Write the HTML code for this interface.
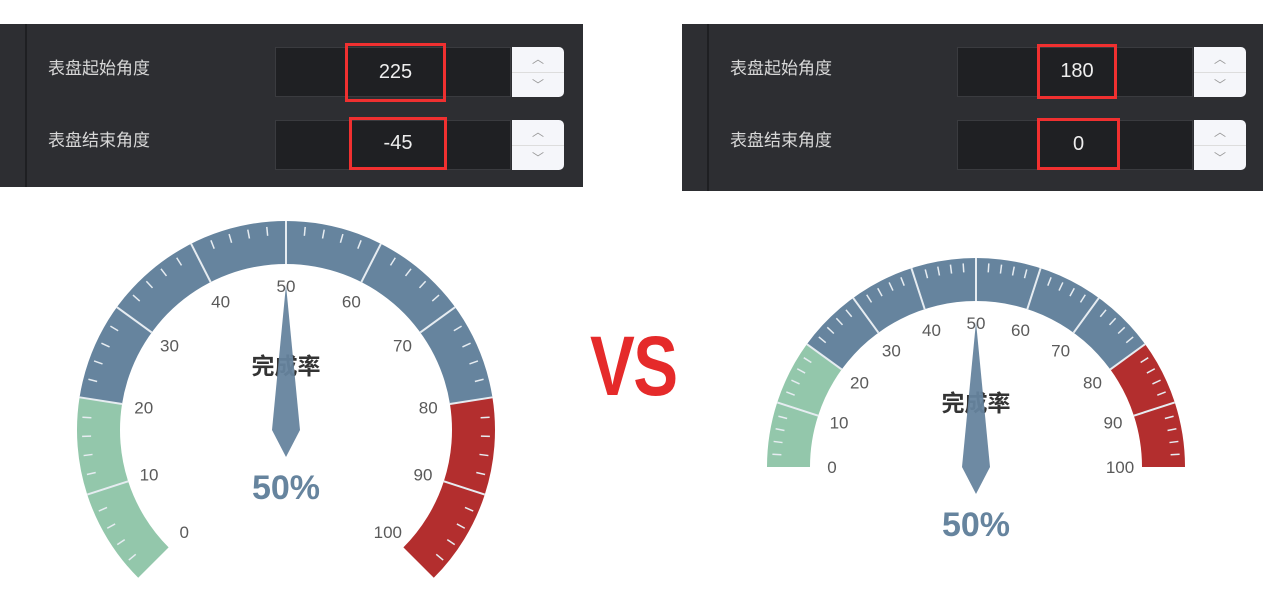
<!DOCTYPE html>
<html><head><meta charset="utf-8">
<style>
body{margin:0;width:1263px;height:613px;background:#fff;overflow:hidden;position:relative;font-family:"Liberation Sans","Noto Sans CJK SC",sans-serif}
.panel{position:absolute;background:#2d2e32}
.strip{position:absolute;left:25px;top:0;bottom:0;width:2px;background:#1e1f22}
.lbl{position:absolute;color:#d8d8d8;font-size:17px;font-family:"Liberation Sans","Noto Sans CJK SC",sans-serif}
.inp{position:absolute;width:236px;height:50px;background:#1f2023;border:1px solid #3a3b3f;box-sizing:border-box}
.spin{position:absolute;width:52px;height:50px;background:#f5f6fa;border-radius:0 5px 5px 0;box-sizing:border-box}
.spin div{height:25px;text-align:center;color:#999;font-size:12px;line-height:25px}
.spin div:first-child{border-bottom:1px solid #ddd}
.red{position:absolute;border:3px solid #f03030;box-sizing:border-box;color:#eee;font-size:20px;text-align:center}
#vs{position:absolute;left:590px;top:318px;font-size:84px;font-weight:bold;color:#e52a2a;letter-spacing:-2px;font-family:"Liberation Sans",sans-serif;transform:scaleX(0.8);transform-origin:0 0}
</style></head><body>
<div class="panel" style="left:0;top:24px;width:583px;height:163px">
 <div class="strip"></div>
 <div class="lbl" style="left:48px;top:30px">表盘起始角度</div>
 <div class="inp" style="left:275px;top:23px"></div>
 <div class="spin" style="left:512px;top:23px"><div>︿</div><div>﹀</div></div>
 <div class="red" style="left:345px;top:19px;width:101px;height:59px;line-height:53px">225</div>
 <div class="lbl" style="left:48px;top:102px">表盘结束角度</div>
 <div class="inp" style="left:275px;top:96px"></div>
 <div class="spin" style="left:512px;top:96px"><div>︿</div><div>﹀</div></div>
 <div class="red" style="left:349px;top:93px;width:98px;height:53px;line-height:47px">-45</div>
</div>
<div class="panel" style="left:682px;top:24px;width:581px;height:167px">
 <div class="strip"></div>
 <div class="lbl" style="left:48px;top:30px">表盘起始角度</div>
 <div class="inp" style="left:275px;top:23px"></div>
 <div class="spin" style="left:512px;top:23px"><div>︿</div><div>﹀</div></div>
 <div class="red" style="left:355px;top:20px;width:80px;height:55px;line-height:49px">180</div>
 <div class="lbl" style="left:48px;top:102px">表盘结束角度</div>
 <div class="inp" style="left:275px;top:96px"></div>
 <div class="spin" style="left:512px;top:96px"><div>︿</div><div>﹀</div></div>
 <div class="red" style="left:355px;top:94px;width:83px;height:52px;line-height:46px">0</div>
</div>
<div id="vs">VS</div>
<svg id="g" width="1263" height="613" style="position:absolute;left:0;top:0"></svg>
<script>
const axisMin = 0, axisMax = 100;
const gaugeValue = 50;
const bandStops = [0.2, 0.8, 1];
const bandColors = ["#93c7ab", "#66849e", "#b32e2e"];
const tickLabels = [0,10,20,30,40,50,60,70,80,90,100];
const gauges = [
 {cx:286, cy:430, start:225, end:-45, name:"gauge-225"},
 {cx:976, cy:467, start:180, end:0, name:"gauge-180"}
];
const NS="http://www.w3.org/2000/svg", svg=document.getElementById('g');
const RO=209, RI=166, RL=144;
function mk(t,a,p){const e=document.createElementNS(NS,t);for(const k in a)e.setAttribute(k,a[k]);(p||svg).appendChild(e);return e;}
gauges.forEach(g=>{
 const grp=mk('g',{});
 
 
 const ang=v=>(g.start+(g.end-g.start)*(v-axisMin)/(axisMax-axisMin))*Math.PI/180;
 const pt=(v,r)=>[g.cx+r*Math.cos(ang(v)), g.cy-r*Math.sin(ang(v))];
 let prev=0;
 bandStops.forEach((s,i)=>{
  const v0=axisMin+prev*(axisMax-axisMin), v1=axisMin+s*(axisMax-axisMin);
  const a=pt(v0,RO),b=pt(v1,RO),c=pt(v1,RI),d=pt(v0,RI);
  const large=Math.abs((g.end-g.start)*(s-prev))>180?1:0;
  const p=mk('path',{d:`M${a}A${RO},${RO} 0 ${large} 1 ${b}L${c}A${RI},${RI} 0 ${large} 0 ${d}Z`,fill:bandColors[i]},grp);
  
  
  prev=s;
 });
 for(let v=axisMin;v<=axisMax;v+=2){
  const major=(v%10===0)&&v!==axisMin&&v!==axisMax;
  if(v===axisMin||v===axisMax) continue;
  const a=pt(v,major?RO:RO-5), b=pt(v,major?RI:RO-14);
  const l=mk('line',{x1:a[0],y1:a[1],x2:b[0],y2:b[1],stroke:'#e6ecf1','stroke-width':major?2:1.5},grp);
  
  
 }
 tickLabels.forEach(v=>{
  const p=pt(v,RL);
  const t=mk('text',{x:p[0],y:p[1]+6,'text-anchor':'middle','font-size':17,fill:'#5a5a5a','font-family':'Liberation Sans, sans-serif'},grp);
  t.textContent=v;
  
  
 });
 const tt=mk('text',{x:g.cx,y:g.cy-56,'text-anchor':'middle','font-size':23,'font-weight':'bold',fill:'#333','font-family':'Liberation Sans, Noto Sans CJK SC, sans-serif'},grp);
 tt.textContent='完成率';
 
 
 const a=ang(gaugeValue), ux=Math.cos(a), uy=-Math.sin(a), px=-uy, py=ux;
 const L=145, T=27, W=14;
 const pts=[[g.cx+ux*L,g.cy+uy*L],[g.cx+px*W,g.cy+py*W],[g.cx-ux*T,g.cy-uy*T],[g.cx-px*W,g.cy-py*W]];
 const ptr=mk('polygon',{points:pts.map(p=>p.join(',')).join(' '),fill:'#66849e',opacity:0.95},grp);
 
 
 const dt=mk('text',{x:g.cx,y:g.cy+69,'text-anchor':'middle','font-size':34,'font-weight':'bold',fill:'#66849e','font-family':'Liberation Sans, sans-serif'},grp);
 dt.textContent=gaugeValue+'%';
 
 
});
</script>
</body></html>
